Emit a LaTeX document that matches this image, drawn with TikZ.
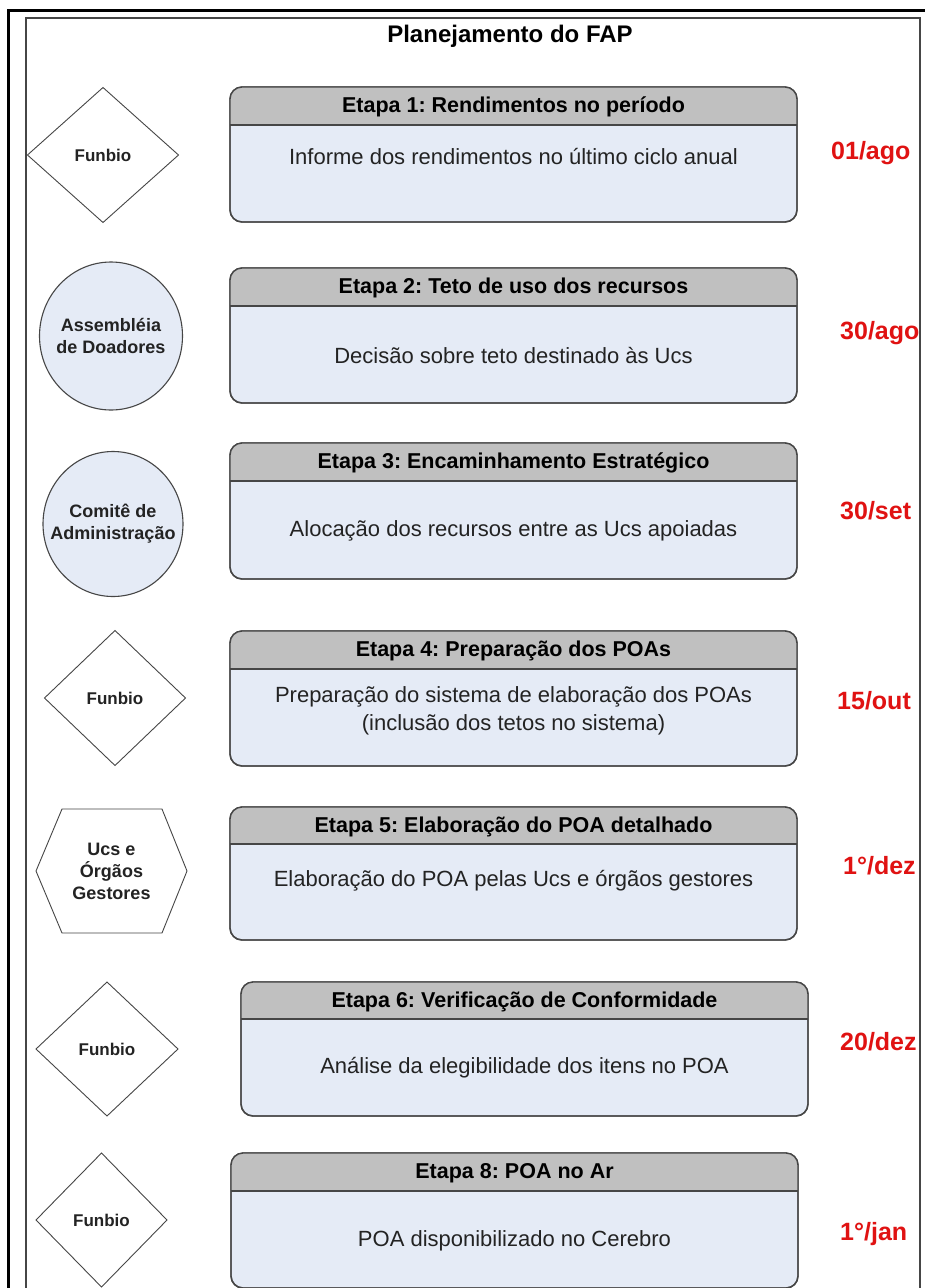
\documentclass[tikz,border=0pt]{standalone}
\usepackage{fontspec}
\setmainfont{Liberation Sans}
\usetikzlibrary{shapes.geometric}
\frenchspacing
\definecolor{headgray}{RGB}{192,192,192}
\definecolor{bodyblue}{RGB}{229,235,246}
\definecolor{edgegray}{RGB}{70,70,70}
\definecolor{datered}{RGB}{224,18,18}
\definecolor{textgray}{RGB}{35,35,35}
\tikzset{
  stagebody/.style={draw=edgegray, line width=1.4pt, fill=bodyblue, rounded corners=12pt, inner sep=0pt, outer sep=0pt},
  headtext/.style={font=\bfseries\fontsize{21.5}{25}\selectfont, text=black, text height=0.72em, text depth=0.2em, inner sep=0pt},
  bodytext/.style={font=\fontsize{22}{28}\selectfont, text=textgray, align=center, inner sep=0pt},
  datetext/.style={font=\bfseries\fontsize{25}{28}\selectfont, text=datered, anchor=west, text height=0.72em, text depth=0.2em, inner sep=0pt},
  actor/.style={font=\bfseries\fontsize{17}{22}\selectfont, text=textgray, align=center, inner sep=0pt},
  diamondshape/.style={diamond, draw=edgegray, line width=0.9pt, inner sep=0pt, outer sep=0pt},
  ellipseshape/.style={ellipse, draw=edgegray, line width=1.1pt, fill=bodyblue, inner sep=0pt, outer sep=0pt},
}
% #1 name, #2 x1, #3 y1, #4 x2, #5 y2, #6 header bottom y, #7 title, #8 body, #9 body y
\newcommand\mystage[9]{%
  \pgfmathsetmacro\stw{#4-#2}\pgfmathsetmacro\sth{#5-#3}%
  \node[stagebody, minimum width=\stw pt, minimum height=\sth pt, anchor=north west] (#1) at (#2,#3) {};
  \coordinate (#1h) at (0,#6);
  \begin{scope}
    \clip[rounded corners=12pt] (#1.north west) rectangle (#1.south east);
    \fill[headgray] (#1.north west) rectangle (#1.east |- #1h);
  \end{scope}
  \draw[edgegray, line width=1.4pt] (#1.west |- #1h) -- (#1.east |- #1h);
  \draw[edgegray, line width=1.4pt, rounded corners=12pt] (#1.north west) rectangle (#1.south east);
  \node[headtext] (#1t) at ({(#2+#4)/2},{(#3+#6)/2+4}) {#7};
  \node[bodytext] (#1b) at ({(#2+#4)/2},#9) {#8};
}
\begin{document}
\begin{tikzpicture}[x=1pt,y=-1pt]
\useasboundingbox (0,0) rectangle (925,1288);
\fill[white] (0,0) rectangle (925,1288);
% frames
\draw[black, line width=3pt] (8,1290) -- (8,10) -- (927,10);
\draw[edgegray, line width=1.8pt] (26,1290) -- (26,18) -- (920,18) -- (920,1290);
% title
\node[font=\bfseries\fontsize{24}{28}\selectfont, text height=0.72em, text depth=0.2em, inner sep=0pt] (title) at (510,40) {Planejamento do FAP};
% stages
\mystage{s1}{230}{87}{797}{222}{125}{Etapa 1: Rendimentos no período}{Informe dos rendimentos no último ciclo anual}{157}
\mystage{s2}{230}{268}{797}{403}{306}{Etapa 2: Teto de uso dos recursos}{Decisão sobre teto destinado às Ucs}{356}
\mystage{s3}{230}{443}{797}{579}{481}{Etapa 3: Encaminhamento Estratégico}{Alocação dos recursos entre as Ucs apoiadas}{531}
\mystage{s4}{230}{631}{797}{766}{669}{Etapa 4: Preparação dos POAs}{Preparação do sistema de elaboração dos POAs\\(inclusão dos tetos no sistema)}{711}
\mystage{s5}{230}{807}{797}{940}{844}{Etapa 5: Elaboração do POA detalhado}{Elaboração do POA pelas Ucs e órgãos gestores}{881}
\mystage{s6}{241}{982}{808}{1116}{1019}{Etapa 6: Verificação de Conformidade}{Análise da elegibilidade dos itens no POA}{1068}
\mystage{s8}{231}{1153}{798}{1288}{1191}{Etapa 8: POA no Ar}{POA disponibilizado no Cerebro}{1241}
% actors
\node[diamondshape, minimum width=151pt, minimum height=135pt] (a1) at (103,155) {};
\node[actor] (a1t) at (a1.center) {Funbio};
\node[ellipseshape, minimum width=143pt, minimum height=148pt] (a2) at (111,336) {};
\node[actor, font=\bfseries\fontsize{18}{22}\selectfont] (a2t) at (a2.center) {Assembléia\\de Doadores};
\node[ellipseshape, minimum width=140pt, minimum height=145pt] (a3) at (113,524) {};
\node[actor, font=\bfseries\fontsize{18}{22}\selectfont] (a3t) at (a3.center) {Comitê de\\Administração};
\node[diamondshape, minimum width=141pt, minimum height=135pt] (a4) at (115,698) {};
\node[actor] (a4t) at (a4.center) {Funbio};
\coordinate (a5) at (111.5,871);
\draw[edgegray, line width=0.9pt] (36,871) -- (62,809) -- (162,809) -- (187,871) -- (162,933) -- (62,933) -- cycle;
\node[actor, font=\bfseries\fontsize{18}{22}\selectfont] (a5t) at (a5) {Ucs e\\Órgãos\\Gestores};
\node[diamondshape, minimum width=142pt, minimum height=134pt] (a6) at (107,1049) {};
\node[actor] (a6t) at (a6.center) {Funbio};
\node[diamondshape, minimum width=131pt, minimum height=134pt] (a7) at (101.5,1220) {};
\node[actor] (a7t) at (a7.center) {Funbio};
% dates
\node[datetext] (d1) at (831,157) {01/ago};
\node[datetext] (d2) at (840,337) {30/ago};
\node[datetext] (d3) at (840,517) {30/set};
\node[datetext] (d4) at (837,707) {15/out};
\node[datetext] (d5) at (843,872) {1°/dez};
\node[datetext] (d6) at (840,1048) {20/dez};
\node[datetext] (d7) at (840,1238) {1°/jan};
\end{tikzpicture}
\end{document}
